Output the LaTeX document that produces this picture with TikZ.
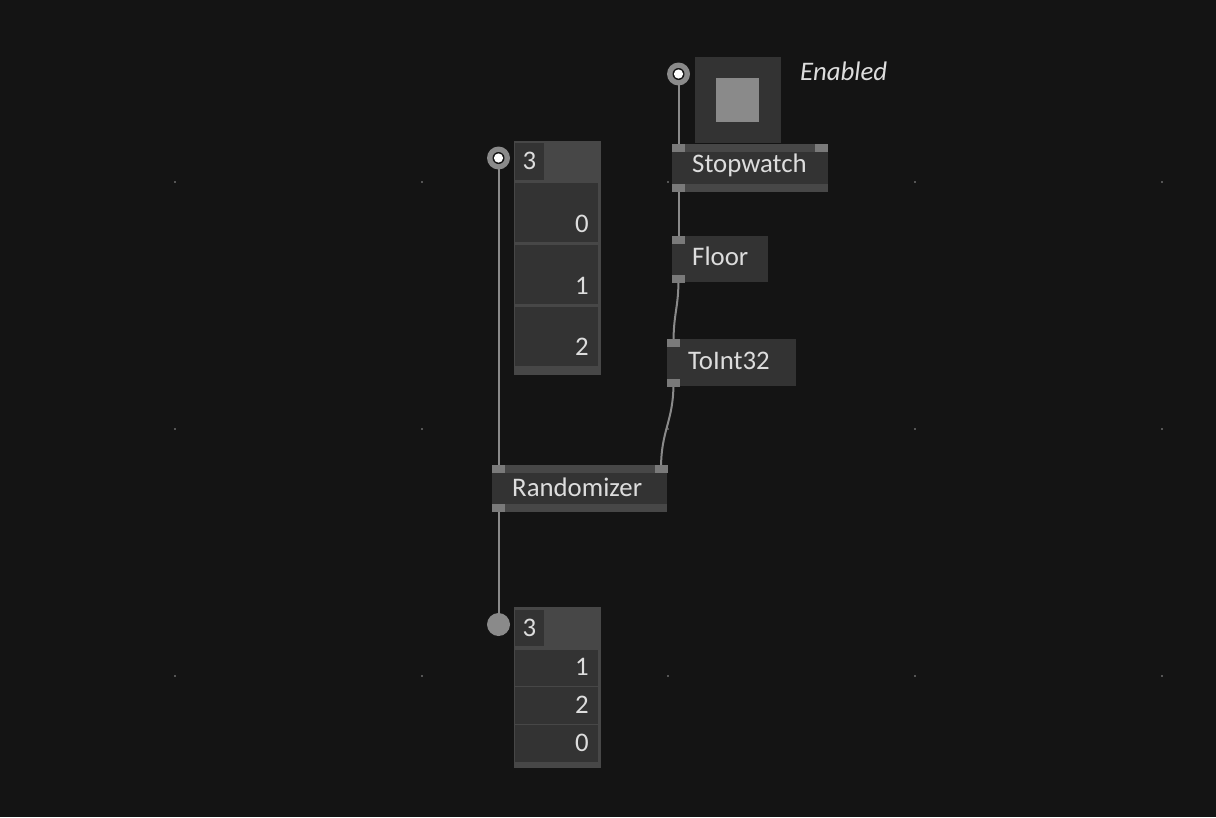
\documentclass[tikz,border=0pt]{standalone}
\usepackage{fontspec}
\setmainfont{Carlito}
\usetikzlibrary{backgrounds}

\definecolor{patchbg}{HTML}{141414}
\definecolor{patchbody}{HTML}{333333}
\definecolor{patchstripe}{HTML}{474747}
\definecolor{patchpin}{HTML}{7A7A7A}
\definecolor{patchlink}{HTML}{8A8A8A}
\definecolor{patchtext}{HTML}{DDDDDD}
\definecolor{patchgrid}{HTML}{555555}

\begin{document}
\begin{tikzpicture}[x=1pt,y=-1pt,line join=round,
    pinsq/.style={rectangle,fill=patchpin,inner sep=0pt,minimum width=13pt,minimum height=8pt},
    patchlabel/.style={text=patchtext,inner sep=0pt,font=\fontsize{26.8}{30}\selectfont},
    link/.style={draw=patchlink,line width=2pt}]
  % Match the original canvas before the standalone border is applied.
  \useasboundingbox (0,0) rectangle (1216,817);

  % Toggle box with its Enabled pin.
  \fill[patchbody] (695,57) rectangle (781,143);
  \fill[patchlink] (716,78) rectangle (759,122);
  \node[patchlabel,anchor=west,font=\fontsize{26.8}{30}\selectfont\itshape] (enlabel) at (800,71) {Enabled};
  \node[circle,fill=patchlink,minimum size=23pt,inner sep=0pt] (enpin) at (678.5,74) {};
  \fill[patchbg] (enpin) circle[radius=6pt];
  \fill[white] (enpin) circle[radius=4.6pt];

  % Stopwatch.
  \fill[patchbody] (672,144) rectangle (828,192);
  \fill[patchstripe] (672,144) rectangle (828,152);
  \fill[patchstripe] (672,183.5) rectangle (828,192);
  \node[pinsq] (swin) at (678.5,148) {};
  \node[pinsq] (swreset) at (821.5,148) {};
  \node[pinsq] (swout) at (678.5,188) {};
  \node[patchlabel,anchor=west] (swlabel) at (692,165.5) {Stopwatch};

  % Floor.
  \fill[patchbody] (672,236) rectangle (768,282);
  \node[pinsq] (floorin) at (678.5,240) {};
  \node[pinsq] (floorout) at (678.5,278.5) {};
  \node[patchlabel,anchor=west] (floorlabel) at (692,256.5) {Floor};

  % ToInt32.
  \fill[patchbody] (667,339) rectangle (796,386);
  \node[pinsq] (tointin) at (673.5,343) {};
  \node[pinsq] (tointout) at (673.5,382.5) {};
  \node[patchlabel,anchor=west] (tointlabel) at (688,360.5) {ToInt32};

  % Randomizer.
  \fill[patchbody] (492,465) rectangle (667,512);
  \fill[patchstripe] (492,465) rectangle (667,473);
  \fill[patchstripe] (492,504) rectangle (667,512);
  \node[pinsq] (rndin) at (498.5,469) {};
  \node[pinsq] (rndcount) at (661,469) {};
  \node[pinsq] (rndout) at (498.5,508) {};
  \node[patchlabel,anchor=west] (rndlabel) at (512,487.5) {Randomizer};

  % Input spread box.
  \fill[patchstripe] (514,141) rectangle (601,375);
  \fill[patchbody] (515,143) rectangle (544,180);
  \fill[patchbody] (515,183) rectangle (598,242);
  \fill[patchbody] (515,245) rectangle (598,304);
  \fill[patchbody] (515,307) rectangle (598,366);
  \node[patchlabel] (incount) at (529.5,161) {3};
  \node[patchlabel,anchor=base east] (inval0) at (589,232) {0};
  \node[patchlabel,anchor=base east] (inval1) at (589,294) {1};
  \node[patchlabel,anchor=base east] (inval2) at (589,355) {2};
  \node[circle,fill=patchlink,minimum size=23pt,inner sep=0pt] (inpin) at (498.5,158) {};
  \fill[patchbg] (inpin) circle[radius=6pt];
  \fill[white] (inpin) circle[radius=4.6pt];

  % Output spread box.
  \fill[patchstripe] (514,607) rectangle (601,768);
  \fill[patchbody] (515,610) rectangle (544,646);
  \fill[patchbody] (515,650) rectangle (598,686);
  \fill[patchbody] (515,687) rectangle (598,724);
  \fill[patchbody] (515,725) rectangle (598,762);
  \node[patchlabel] (outcount) at (529.5,628) {3};
  \node[patchlabel,anchor=base east] (outval0) at (589,675) {1};
  \node[patchlabel,anchor=base east] (outval1) at (589,713) {2};
  \node[patchlabel,anchor=base east] (outval2) at (589,751) {0};
  \node[circle,fill=patchlink,minimum size=23pt,inner sep=0pt] (outpin) at (498.5,624.5) {};

  % Canvas, grid dots and links sit under everything else.
  \begin{pgfonlayer}{background}
    \fill[patchbg] (0,0) rectangle (1216,817);
    \foreach \gx in {175,422,668,915,1162}
      \foreach \gy in {182,429,676}
        \fill[patchgrid] (\gx-1,\gy-1) rectangle (\gx+1,\gy+1);
    \draw[link] (enpin.center) -- (swin.center);
    \draw[link] (swout.center) -- (floorin.center);
    \draw[link] (floorout.center) .. controls +(0,30) and +(0,-30) .. (tointin.center);
    \draw[link] (tointout.center) .. controls +(0,40) and +(0,-40) .. (rndcount.center);
    \draw[link] (inpin.center) -- (rndin.center);
    \draw[link] (rndout.center) -- (outpin.center);
  \end{pgfonlayer}
\end{tikzpicture}
\end{document}
